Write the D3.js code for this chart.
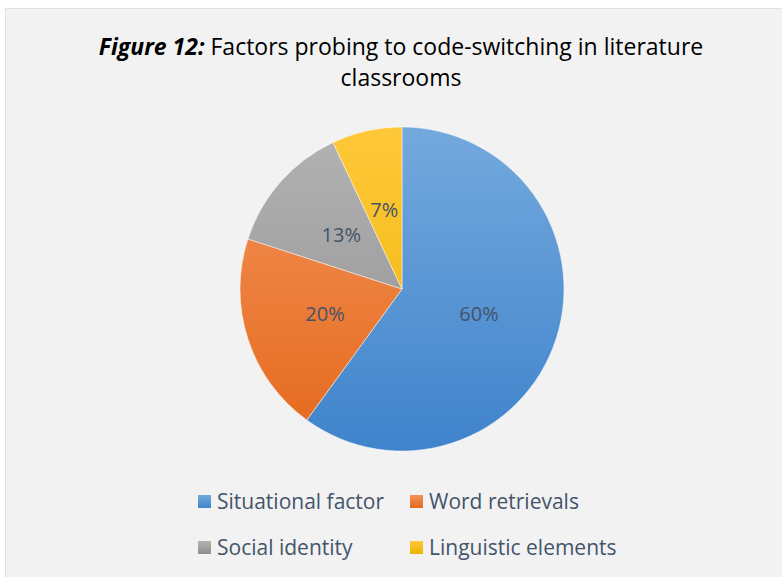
<!DOCTYPE html>
<html>
<head>
<meta charset="utf-8">
<script src="https://cdn.jsdelivr.net/npm/d3@7"></script>
<style>
  html, body { margin: 0; padding: 0; background: #ffffff; }
  svg { display: block; }
</style>
</head>
<body>
<svg id="chart" width="782" height="577"></svg>
<script>
// Chart data
const categories = ['Situational factor', 'Word retrievals', 'Social identity', 'Linguistic elements'];
const values = [60, 20, 13, 7];
const sliceTop = ['#74a9dd', '#f4935a', '#b3b3b3', '#ffc83a'];
const sliceBottom = ['#3f83cc', '#e4691c', '#8e8e8e', '#ecb400'];

const svg = d3.select('#chart');
const W = 782, H = 577;

// Chart area background and border
svg.append('rect')
    .attr('x', 5.5).attr('y', 8.5)
    .attr('width', W).attr('height', H)
    .attr('fill', '#f2f2f2')
    .attr('stroke', '#dde2ea')
    .attr('stroke-width', 1);

// Gradients for the slices
const defs = svg.append('defs');
categories.forEach((c, i) => {
    const g = defs.append('linearGradient')
        .attr('id', 'grad' + i)
        .attr('gradientUnits', 'userSpaceOnUse')
        .attr('x1', 0).attr('y1', -162)
        .attr('x2', 0).attr('y2', 162);
    g.append('stop').attr('offset', '0%').attr('stop-color', sliceTop[i]);
    g.append('stop').attr('offset', '100%').attr('stop-color', sliceBottom[i]);
    const lg = defs.append('linearGradient')
        .attr('id', 'lgrad' + i)
        .attr('x1', 0).attr('y1', 0)
        .attr('x2', 0).attr('y2', 1);
    lg.append('stop').attr('offset', '0%').attr('stop-color', sliceTop[i]);
    lg.append('stop').attr('offset', '100%').attr('stop-color', sliceBottom[i]);
});

// Title
const title = svg.append('text')
    .attr('text-anchor', 'middle')
    .style('font-family', "'Open Sans', sans-serif")
    .style('font-size', '23px')
    .attr('fill', '#000');
const l1 = title.append('tspan').attr('x', 401).attr('y', 55);
l1.append('tspan').style('font-weight', 'bold').style('font-style', 'italic').text('Figure 12:');
l1.append('tspan').text(' Factors probing to code-switching in literature');
title.append('tspan').attr('x', 401).attr('y', 86).text('classrooms');

// Pie
const cx = 402, cy = 289, R = 162;
const pie = d3.pie().sort(null).value(d => d);
const arc = d3.arc().innerRadius(0).outerRadius(R);
const arcs = pie(values);

const g = svg.append('g').attr('transform', `translate(${cx},${cy})`);
g.selectAll('path')
    .data(arcs)
    .join('path')
    .attr('d', arc)
    .attr('fill', (d, i) => `url(#grad${i})`)
    .attr('stroke', '#ffffff')
    .attr('stroke-opacity', 0.6)
    .attr('stroke-width', 0.8);

g.selectAll('text')
    .data(arcs)
    .join('text')
    .attr('transform', d => `translate(${arc.centroid(d)})`)
    .attr('text-anchor', 'middle')
    .attr('dy', '0.35em')
    .style('font-family', "'Open Sans', sans-serif")
    .style('font-size', '20px')
    .attr('fill', '#44546a')
    .text(d => d.data + '%');

// Legend
const legendX = [198, 410];
const legendY = [502, 548];
const legend = svg.append('g');
categories.forEach((c, i) => {
    const x = legendX[i % 2], y = legendY[Math.floor(i / 2)];
    legend.append('rect')
        .attr('x', x).attr('y', y - 7)
        .attr('width', 13).attr('height', 13)
        .attr('fill', `url(#lgrad${i})`);
    legend.append('text')
        .attr('x', x + 19).attr('y', y)
        .attr('dy', '0.35em')
        .style('font-family', "'Open Sans', sans-serif")
        .style('font-size', '21px')
        .attr('fill', '#44546a')
        .text(c);
});
</script>
</body>
</html>
